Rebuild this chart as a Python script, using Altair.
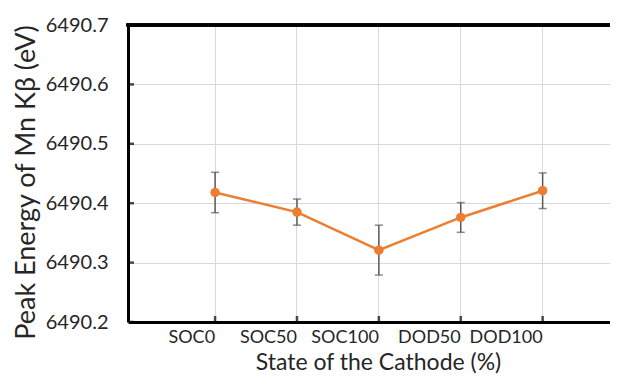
import altair as alt
import pandas as pd

cats = ["SOC0", "SOC50", "SOC100", "DOD50", "DOD100"]
energy = [6490.418, 6490.385, 6490.321, 6490.376, 6490.421]
err = [0.034, 0.022, 0.042, 0.025, 0.030]
y_ticks = [6490.2, 6490.3, 6490.4, 6490.5, 6490.6, 6490.7]

df = pd.DataFrame({"state": cats, "energy": energy, "err": err})
df["lo"] = df["energy"] - df["err"]
df["hi"] = df["energy"] + df["err"]
ticks_df = pd.DataFrame({"v": y_ticks})

W, H = 482, 297
FONT = "Lato"
TXT = "#262626"

xscale = alt.Scale(domain=cats, padding=0.886, align=0.568)
yscale = alt.Scale(domain=[6490.2, 6490.7], nice=False, zero=False)

x_enc = alt.X("state:O", scale=xscale, sort=cats,
              axis=alt.Axis(title="State of the Cathode (%)", labelAngle=0,
                            labelFontSize=18, labelColor=TXT, labelFont=FONT,
                            titleFontSize=23, titleFont=FONT, titleColor=TXT,
                            titleFontWeight="normal", labelPadding=15,
                            titleX=250, titleY=29.8, titleBaseline="top", titleAlign="center",
                            ticks=False, domainColor="black", domainWidth=3,
                            grid=True, gridColor="#d9d9d9", gridWidth=1))
y_enc = alt.Y("energy:Q", scale=yscale,
              axis=alt.Axis(title="Peak Energy of Mn Kβ (eV)", values=y_ticks, format=".1f",
                            labelFontSize=20, labelColor=TXT, labelFont=FONT,
                            titleFontSize=27, titleFont=FONT, titleColor=TXT,
                            titleFontWeight="normal", labelPadding=20, titlePadding=5,
                            titleY=157,
                            ticks=False, domainColor="black", domainWidth=3,
                            grid=True, gridColor="#d9d9d9", gridWidth=1))

base = alt.Chart(df)
xs = alt.X("state:O", scale=xscale, sort=cats)

rules = base.mark_rule(color="#595959", strokeWidth=1.5).encode(
    x=x_enc, y=alt.Y("lo:Q", scale=yscale), y2="hi:Q")
cap_lo = base.mark_tick(color="#595959", thickness=1.5, size=8, orient="horizontal").encode(
    x=xs, y=alt.Y("lo:Q", scale=yscale))
cap_hi = base.mark_tick(color="#595959", thickness=1.5, size=8, orient="horizontal").encode(
    x=xs, y=alt.Y("hi:Q", scale=yscale))
line = base.mark_line(color="#ED7D31", strokeWidth=2.5).encode(x=xs, y=y_enc)
pts = base.mark_point(filled=True, color="#ED7D31", size=90, opacity=1).encode(
    x=xs, y=alt.Y("energy:Q", scale=yscale))

xt = base.mark_tick(color="black", thickness=2.5, size=12, orient="vertical", clip=True).encode(
    x=xs, y=alt.value(H))
yt = alt.Chart(ticks_df).mark_tick(color="black", thickness=2.5, size=12, orient="horizontal", clip=True).encode(
    y=alt.Y("v:Q", scale=yscale), x=alt.value(0))
top = base.mark_rule(color="black", strokeWidth=3).encode(
    x=alt.value(-1.5), x2=alt.value(W), y=alt.value(0))

chart = alt.layer(line, rules, cap_lo, cap_hi, pts, xt, yt, top).properties(
    width=W, height=H,
    background="white",
    autosize=alt.AutoSizeParams(type="none"),
    padding={"left": 120, "top": 17, "right": 0, "bottom": 53},
).configure_view(strokeWidth=0)

chart.save("out.html", embed_options={"renderer": "svg", "actions": False})
